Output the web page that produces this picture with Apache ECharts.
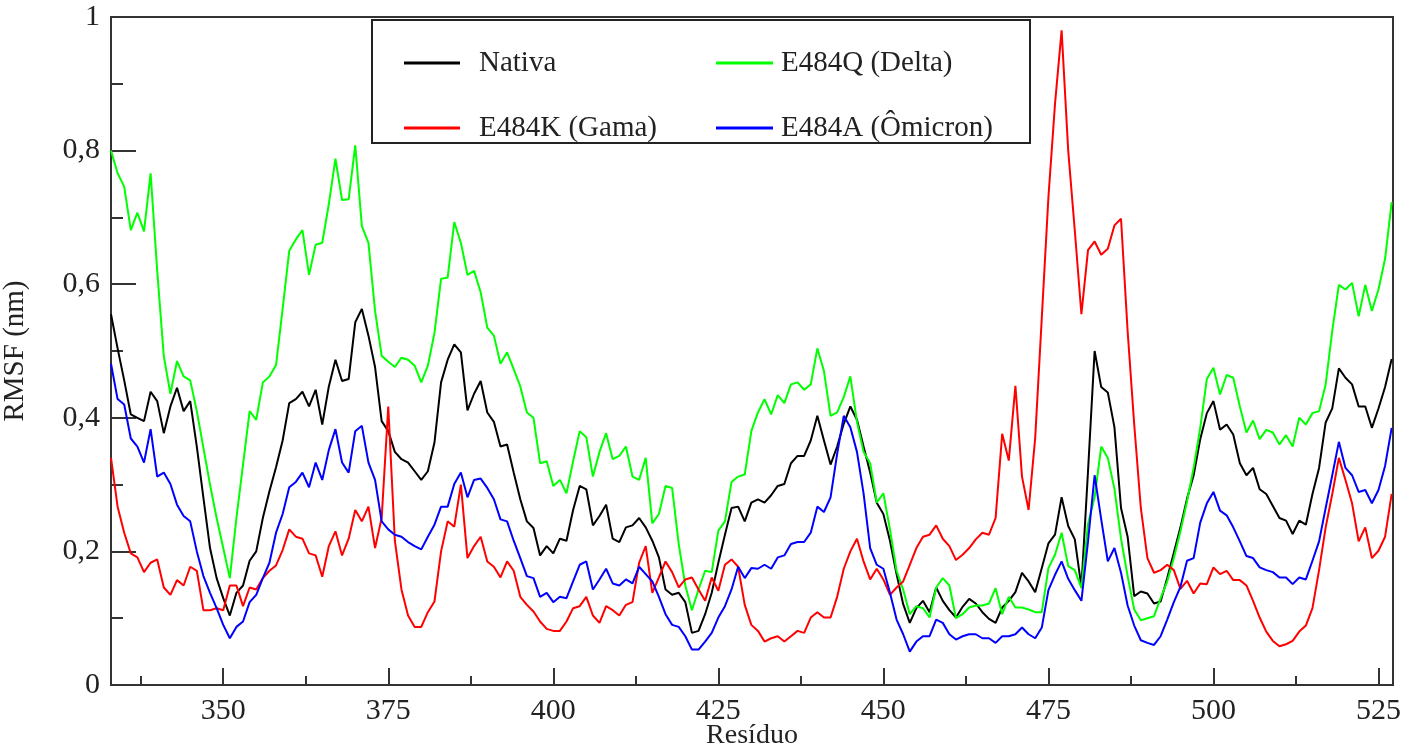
<!DOCTYPE html>
<html lang="pt">
<head>
    <meta charset="UTF-8">
    <title>RMSF</title>
    <script src="https://cdn.jsdelivr.net/npm/echarts@6/dist/echarts.min.js"></script>
    <style>
        body {
            margin: 0;
            padding: 0;
            background-color: #fff;
        }
        #main {
            width: 1410px;
            height: 745px;
        }
    </style>
</head>
<body>
<div id="main"></div>

<script>
    // residues 333 .. 527, one value per residue
    const firstResidue = 333;

    const nativa = [
        0.555, 0.504, 0.456, 0.405, 0.400, 0.395, 0.439, 0.425, 0.377, 0.417, // 333
        0.445, 0.410, 0.425, 0.357, 0.280, 0.205, 0.160, 0.130, 0.104, 0.138, // 343
        0.149, 0.186, 0.200, 0.250, 0.290, 0.326, 0.366, 0.422, 0.428, 0.439, // 353
        0.417, 0.442, 0.390, 0.447, 0.487, 0.455, 0.458, 0.543, 0.563, 0.523, // 363
        0.476, 0.395, 0.380, 0.349, 0.338, 0.333, 0.320, 0.307, 0.320, 0.363, // 373
        0.453, 0.487, 0.510, 0.498, 0.411, 0.436, 0.455, 0.408, 0.394, 0.357, // 383
        0.360, 0.318, 0.278, 0.245, 0.235, 0.194, 0.208, 0.197, 0.219, 0.216, // 393
        0.262, 0.298, 0.293, 0.239, 0.253, 0.270, 0.219, 0.214, 0.236, 0.239, // 403
        0.250, 0.236, 0.216, 0.191, 0.143, 0.135, 0.138, 0.124, 0.078, 0.081, // 413
        0.106, 0.138, 0.183, 0.225, 0.265, 0.267, 0.245, 0.273, 0.278, 0.273, // 423
        0.284, 0.298, 0.301, 0.332, 0.343, 0.343, 0.366, 0.403, 0.366, 0.330, // 433
        0.357, 0.391, 0.417, 0.397, 0.357, 0.318, 0.273, 0.256, 0.216, 0.166, // 443
        0.121, 0.093, 0.115, 0.126, 0.109, 0.146, 0.126, 0.112, 0.101, 0.117, // 453
        0.129, 0.122, 0.109, 0.099, 0.093, 0.116, 0.126, 0.139, 0.168, 0.155, // 463
        0.139, 0.175, 0.212, 0.225, 0.281, 0.238, 0.218, 0.147, 0.320, 0.500, // 473
        0.446, 0.438, 0.386, 0.265, 0.222, 0.133, 0.140, 0.137, 0.122, 0.125, // 483
        0.160, 0.198, 0.236, 0.279, 0.314, 0.368, 0.407, 0.425, 0.382, 0.390, // 493
        0.375, 0.332, 0.314, 0.325, 0.293, 0.286, 0.268, 0.250, 0.246, 0.226, // 503
        0.246, 0.240, 0.286, 0.325, 0.393, 0.414, 0.474, 0.460, 0.450, 0.417, // 513
        0.417, 0.385, 0.414, 0.446, 0.488                                      // 523
    ];

    const delta = [
        0.800, 0.766, 0.746, 0.681, 0.707, 0.679, 0.766, 0.620, 0.492, 0.436,
        0.485, 0.462, 0.456, 0.410, 0.355, 0.300, 0.250, 0.205, 0.160, 0.250,
        0.330, 0.410, 0.397, 0.453, 0.462, 0.479, 0.563, 0.650, 0.667, 0.681,
        0.614, 0.659, 0.662, 0.720, 0.788, 0.726, 0.727, 0.808, 0.687, 0.662,
        0.560, 0.493, 0.484, 0.476, 0.490, 0.487, 0.478, 0.453, 0.478, 0.527,
        0.608, 0.610, 0.693, 0.662, 0.614, 0.620, 0.588, 0.535, 0.523, 0.481,
        0.498, 0.473, 0.447, 0.408, 0.400, 0.332, 0.335, 0.298, 0.307, 0.287,
        0.335, 0.380, 0.371, 0.312, 0.349, 0.377, 0.338, 0.343, 0.357, 0.312,
        0.307, 0.340, 0.242, 0.256, 0.298, 0.295, 0.211, 0.149, 0.112, 0.143,
        0.171, 0.169, 0.231, 0.245, 0.304, 0.312, 0.315, 0.380, 0.408, 0.428,
        0.405, 0.434, 0.422, 0.450, 0.453, 0.442, 0.450, 0.504, 0.470, 0.403,
        0.408, 0.431, 0.462, 0.394, 0.349, 0.332, 0.273, 0.287, 0.233, 0.171,
        0.143, 0.106, 0.118, 0.115, 0.101, 0.146, 0.160, 0.149, 0.100, 0.106,
        0.116, 0.119, 0.119, 0.122, 0.145, 0.106, 0.132, 0.116, 0.116, 0.113,
        0.109, 0.109, 0.175, 0.195, 0.228, 0.178, 0.172, 0.145, 0.241, 0.281,
        0.357, 0.340, 0.294, 0.219, 0.163, 0.113, 0.097, 0.100, 0.103, 0.130,
        0.155, 0.190, 0.230, 0.275, 0.325, 0.385, 0.458, 0.475, 0.435, 0.464,
        0.460, 0.417, 0.378, 0.396, 0.368, 0.382, 0.378, 0.360, 0.374, 0.357,
        0.400, 0.390, 0.407, 0.410, 0.450, 0.530, 0.599, 0.592, 0.602, 0.552,
        0.599, 0.560, 0.592, 0.638, 0.723
    ];

    const gama = [
        0.340, 0.267, 0.228, 0.197, 0.191, 0.169, 0.183, 0.188, 0.146, 0.135,
        0.157, 0.149, 0.177, 0.171, 0.112, 0.112, 0.115, 0.112, 0.149, 0.149,
        0.118, 0.146, 0.143, 0.160, 0.171, 0.179, 0.202, 0.233, 0.222, 0.219,
        0.197, 0.194, 0.162, 0.208, 0.230, 0.194, 0.219, 0.262, 0.245, 0.267,
        0.205, 0.250, 0.417, 0.216, 0.143, 0.104, 0.087, 0.087, 0.109, 0.125,
        0.200, 0.245, 0.237, 0.300, 0.190, 0.208, 0.222, 0.185, 0.177, 0.161,
        0.185, 0.171, 0.132, 0.120, 0.110, 0.095, 0.084, 0.081, 0.081, 0.095,
        0.115, 0.118, 0.132, 0.104, 0.093, 0.118, 0.112, 0.104, 0.120, 0.124,
        0.183, 0.208, 0.138, 0.161, 0.185, 0.169, 0.146, 0.158, 0.161, 0.143,
        0.126, 0.161, 0.141, 0.180, 0.188, 0.177, 0.120, 0.090, 0.081, 0.065,
        0.070, 0.073, 0.065, 0.073, 0.081, 0.078, 0.101, 0.109, 0.101, 0.101,
        0.132, 0.174, 0.200, 0.219, 0.185, 0.158, 0.174, 0.158, 0.135, 0.146,
        0.155, 0.180, 0.205, 0.222, 0.225, 0.239, 0.219, 0.208, 0.187, 0.195,
        0.205, 0.218, 0.228, 0.225, 0.250, 0.376, 0.336, 0.448, 0.312, 0.262,
        0.370, 0.550, 0.730, 0.870, 0.980, 0.800, 0.680, 0.555, 0.651, 0.664,
        0.644, 0.653, 0.688, 0.698, 0.530, 0.390, 0.265, 0.190, 0.168, 0.172,
        0.180, 0.172, 0.144, 0.156, 0.137, 0.152, 0.151, 0.176, 0.166, 0.171,
        0.157, 0.157, 0.149, 0.126, 0.101, 0.080, 0.066, 0.058, 0.061, 0.066,
        0.080, 0.089, 0.115, 0.172, 0.236, 0.286, 0.340, 0.307, 0.272, 0.215,
        0.236, 0.190, 0.201, 0.222, 0.286
    ];

    const omicron = [
        0.481, 0.428, 0.420, 0.369, 0.357, 0.333, 0.383, 0.312, 0.318, 0.301,
        0.270, 0.253, 0.245, 0.200, 0.163, 0.138, 0.115, 0.090, 0.070, 0.087,
        0.095, 0.124, 0.135, 0.160, 0.183, 0.228, 0.256, 0.296, 0.304, 0.318,
        0.296, 0.333, 0.307, 0.352, 0.383, 0.333, 0.318, 0.380, 0.388, 0.333,
        0.307, 0.245, 0.233, 0.225, 0.222, 0.214, 0.208, 0.203, 0.222, 0.240,
        0.267, 0.267, 0.301, 0.318, 0.281, 0.307, 0.309, 0.295, 0.278, 0.248,
        0.245, 0.216, 0.190, 0.163, 0.160, 0.132, 0.138, 0.124, 0.132, 0.130,
        0.155, 0.180, 0.185, 0.143, 0.158, 0.174, 0.152, 0.149, 0.158, 0.152,
        0.177, 0.166, 0.155, 0.132, 0.106, 0.090, 0.087, 0.073, 0.053, 0.053,
        0.065, 0.078, 0.101, 0.118, 0.143, 0.177, 0.160, 0.175, 0.174, 0.180,
        0.174, 0.191, 0.194, 0.211, 0.214, 0.214, 0.228, 0.267, 0.259, 0.281,
        0.346, 0.403, 0.386, 0.349, 0.287, 0.205, 0.180, 0.174, 0.138, 0.098,
        0.076, 0.050, 0.065, 0.073, 0.073, 0.098, 0.093, 0.076, 0.068, 0.073,
        0.076, 0.076, 0.070, 0.070, 0.063, 0.073, 0.073, 0.076, 0.086, 0.076,
        0.070, 0.086, 0.142, 0.165, 0.185, 0.159, 0.142, 0.126, 0.215, 0.314,
        0.248, 0.185, 0.205, 0.168, 0.119, 0.089, 0.067, 0.063, 0.060, 0.073,
        0.098, 0.124, 0.147, 0.186, 0.190, 0.243, 0.272, 0.289, 0.261, 0.254,
        0.236, 0.215, 0.193, 0.190, 0.176, 0.172, 0.169, 0.161, 0.161, 0.151,
        0.161, 0.158, 0.186, 0.215, 0.265, 0.314, 0.364, 0.325, 0.314, 0.289,
        0.292, 0.272, 0.292, 0.328, 0.385
    ];

    const xMajorTicks = [350, 375, 400, 425, 450, 475, 500, 525];
    const xMinorTicks = [337.5, 362.5, 387.5, 412.5, 437.5, 462.5, 487.5, 512.5];

    const seriesNames = ['Nativa', 'E484Q (Delta)', 'E484K (Gama)', 'E484A (\u00d4micron)'];
    const seriesColors = ['#000000', '#00ff00', '#ff0000', '#0000ff'];
    const seriesValues = [nativa, delta, gama, omicron];

    const serif = '"Liberation Serif", "DejaVu Serif", serif';

    function toPoints(values) {
        return values.map((v, i) => [firstResidue + i, v]);
    }

    const chart = echarts.init(document.getElementById('main'));

    const legendText = {
        fontFamily: serif,
        fontSize: 29,
        color: '#222',
        lineHeight: 30
    };

    const option = {
        backgroundColor: '#fff',
        animation: false,
        grid: {
            left: 111,
            right: 17,
            top: 17,
            bottom: 60,
            show: true,
            borderColor: '#333',
            borderWidth: 2,
            outerBoundsMode: 'none'
        },
        graphic: [
            {
                type: 'rect',
                shape: { x: 372, y: 20, width: 658, height: 123 },
                style: { fill: '#fff', stroke: '#222', lineWidth: 2 },
                z: 50
            }
        ],
        legend: [
            {
                data: [seriesNames[0], seriesNames[2]],
                orient: 'vertical',
                left: 399,
                top: 43,
                itemGap: 35,
                itemWidth: 56,
                itemHeight: 3,
                icon: 'rect',
                textStyle: Object.assign({ padding: [0, 0, 0, 14] }, legendText),
                z: 60
            },
            {
                data: [seriesNames[1], seriesNames[3]],
                orient: 'vertical',
                left: 711,
                top: 43,
                itemGap: 35,
                itemWidth: 57,
                itemHeight: 3,
                icon: 'rect',
                textStyle: Object.assign({ padding: [0, 0, 0, 3] }, legendText),
                z: 60
            }
        ],
        xAxis: [
            {
                type: 'value',
                min: 333,
                max: 527.2,
                name: 'Res\u00edduo',
                nameLocation: 'middle',
                nameGap: 37,
                nameMoveOverlap: false,
                nameTextStyle: { fontFamily: serif, fontSize: 28, color: '#222' },
                axisLine: { show: true, lineStyle: { color: '#333', width: 2 } },
                axisTick: {
                    show: true,
                    inside: true,
                    length: 17,
                    customValues: xMajorTicks,
                    lineStyle: { color: '#333', width: 2 }
                },
                axisLabel: {
                    customValues: xMajorTicks,
                    margin: 11,
                    fontFamily: serif,
                    fontSize: 30,
                    color: '#222'
                },
                splitLine: { show: false }
            },
            {
                type: 'value',
                min: 333,
                max: 527.2,
                position: 'bottom',
                axisLine: { show: false },
                axisTick: {
                    show: true,
                    inside: true,
                    length: 9,
                    customValues: xMinorTicks,
                    lineStyle: { color: '#333', width: 2 }
                },
                axisLabel: { show: false },
                splitLine: { show: false }
            }
        ],
        yAxis: {
            type: 'value',
            min: 0,
            max: 1,
            interval: 0.2,
            name: 'RMSF (nm)',
            nameLocation: 'middle',
            nameRotate: 90,
            nameGap: 81,
            nameMoveOverlap: false,
            nameTextStyle: { fontFamily: serif, fontSize: 29, color: '#222' },
            axisLine: { show: true, lineStyle: { color: '#333', width: 2 } },
            axisTick: {
                show: true,
                inside: true,
                length: 25,
                lineStyle: { color: '#333', width: 2 }
            },
            minorTick: {
                show: true,
                splitNumber: 2,
                length: 12,
                lineStyle: { color: '#333', width: 2 }
            },
            axisLabel: {
                margin: 11,
                fontFamily: serif,
                fontSize: 30,
                color: '#222',
                formatter: v => String(Number(v.toFixed(1))).replace('.', ',')
            },
            splitLine: { show: false }
        },
        series: seriesNames.map((name, k) => ({
            name: name,
            type: 'line',
            xAxisIndex: 0,
            data: toPoints(seriesValues[k]),
            symbol: 'none',
            color: seriesColors[k],
            lineStyle: { color: seriesColors[k], width: 2 },
            z: 2
        }))
    };

    chart.setOption(option);
</script>
</body>
</html>
